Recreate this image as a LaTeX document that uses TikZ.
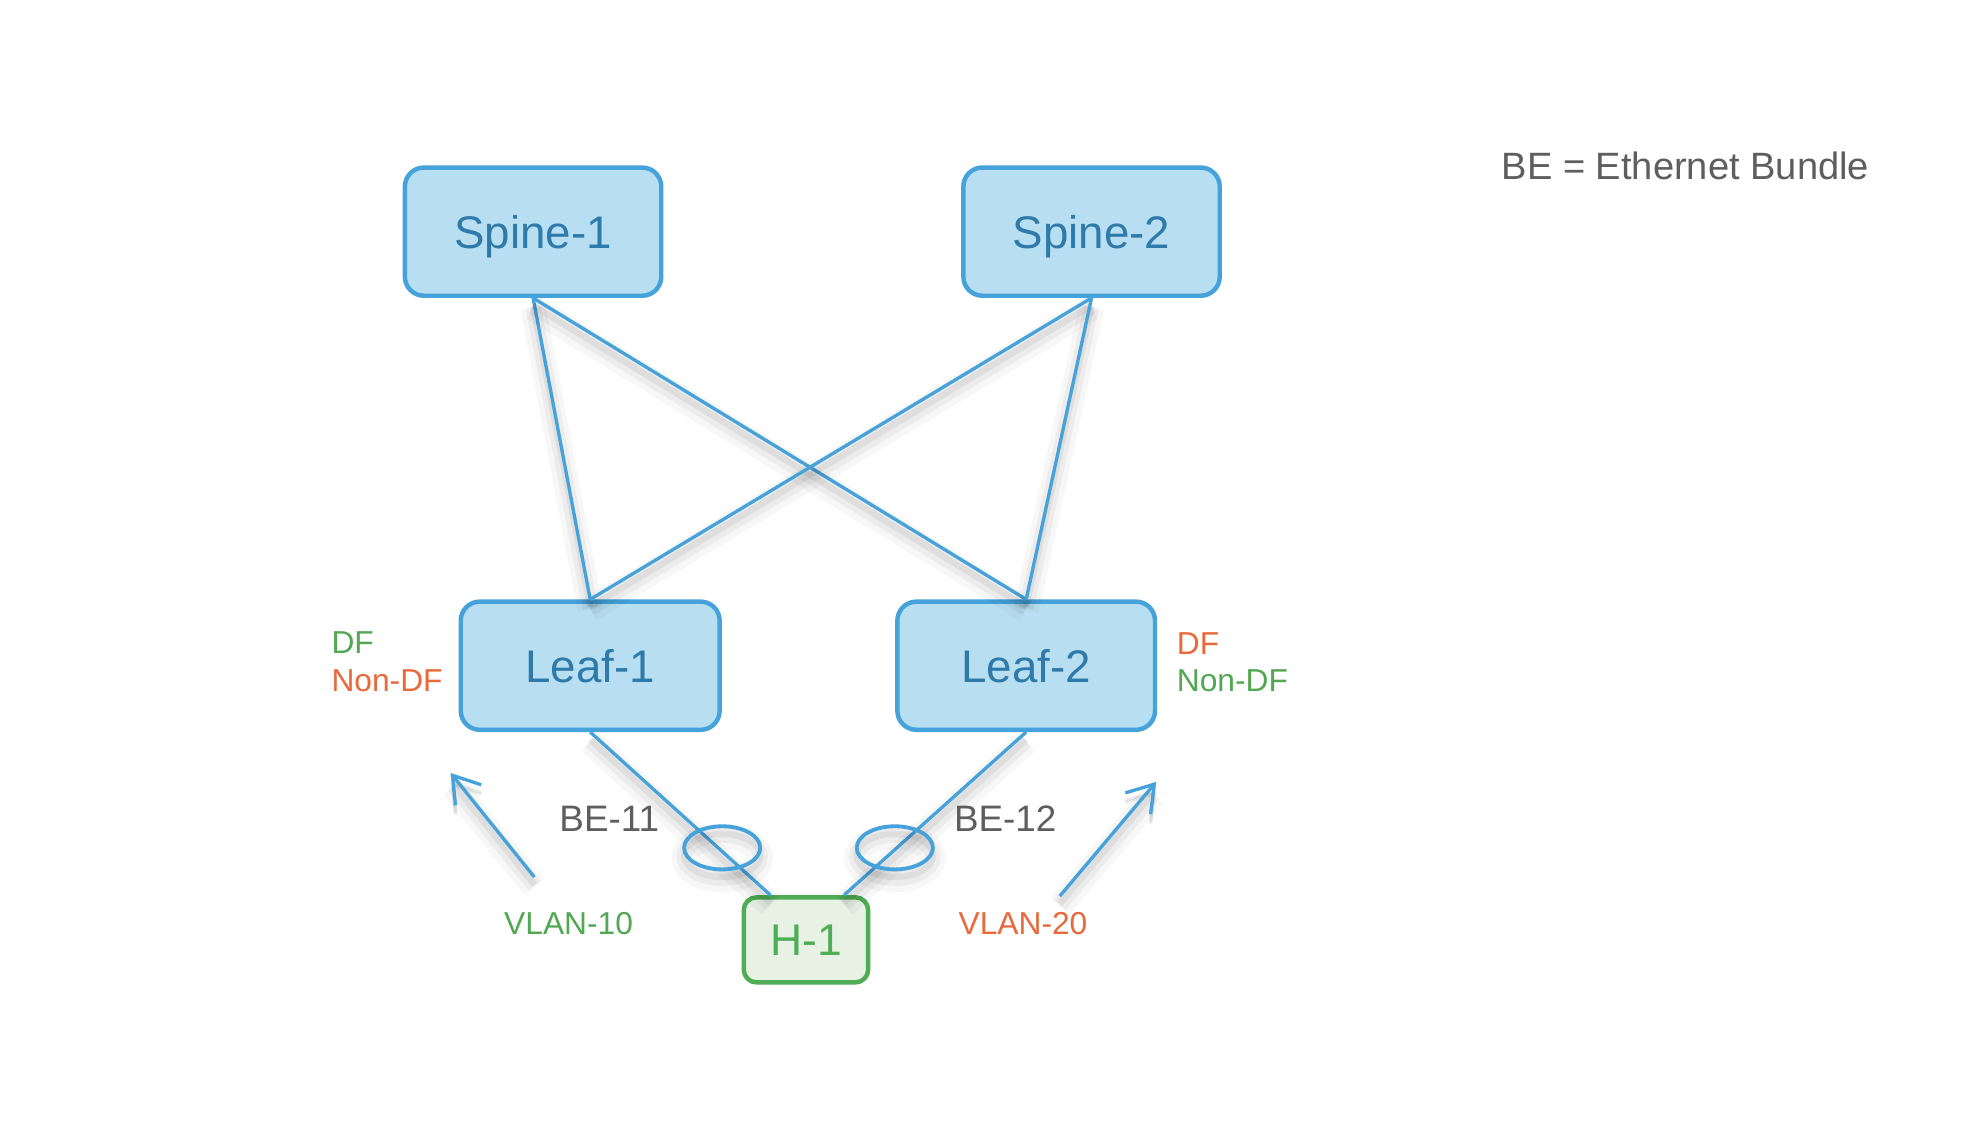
\documentclass[tikz,border=0pt]{standalone}
\usepackage{fontspec}
\setmainfont{Liberation Sans}
\usetikzlibrary{arrows.meta,calc}
\definecolor{boxfill}{HTML}{B8DFF1}
\definecolor{boxline}{HTML}{45A2DA}
\definecolor{boxtext}{HTML}{2E7AAA}
\definecolor{hgreen}{HTML}{4EAD55}
\definecolor{hfill}{HTML}{E7F2E5}
\definecolor{tgreen}{HTML}{52A852}
\definecolor{torange}{HTML}{E8693A}
\definecolor{tgray}{HTML}{5E5E5E}
\tikzset{
  devbox/.style={draw=boxline, fill=boxfill, line width=3.5pt, rounded corners=15pt,
    minimum width=202pt, minimum height=101pt, inner sep=0pt,
    text=boxtext, font=\fontsize{36}{40}\selectfont, text height=25.8pt, text depth=0pt},
  hostbox/.style={draw=hgreen, fill=hfill, line width=3.5pt, rounded corners=10pt,
    minimum width=98pt, minimum height=67pt, inner sep=0pt,
    text=hgreen, font=\fontsize{35}{40}\selectfont, text height=25pt, text depth=0pt},
  shad/.style={
    preaction={draw=black, opacity=0.03, line width=20pt, transform canvas={yshift=-8pt}},
    preaction={draw=black, opacity=0.045, line width=12pt, transform canvas={yshift=-7pt}},
    preaction={draw=black, opacity=0.06, line width=5pt, transform canvas={yshift=-6pt}}},
  link/.style={draw=boxline, line width=2.6pt, shad},
  varrow/.style={draw=boxline, line width=2.6pt, -{Straight Barb[length=20pt,width=26pt,line width=2.6pt]}},
  bundle/.style={draw=boxline, line width=3pt},
  lbl/.style={inner sep=0pt, font=\fontsize{29}{32}\selectfont, text height=20.8pt, text depth=0pt},
  small/.style={inner sep=0pt, font=\fontsize{25}{28}\selectfont, text height=18pt, text depth=0pt},
}
\begin{document}
\begin{tikzpicture}[x=1pt,y=-1pt]
\useasboundingbox (0,0) rectangle (1560,901);
\fill[white] (0,0) rectangle (1560,901);

% devices
\node[devbox] (S1) at (420,182.5) {Spine-1};
\node[devbox] (S2) at (860,182.5) {Spine-2};
\node[devbox, minimum width=204pt] (L1) at (465,524.5) {Leaf-1};
\node[devbox, minimum width=203pt] (L2) at (808.5,524.5) {Leaf-2};
\node[hostbox] (H1) at (635,740.5) {H-1};

% fabric links
\draw[link] (S1.south) -- (L1.north);
\draw[link] (S1.south) -- (L2.north);
\draw[link] (S2.south) -- (L1.north);
\draw[link] (S2.south) -- (L2.north);

% access links
\draw[link] (L1.south) -- ($(H1.north)+(-28,0)$);
\draw[link] (L2.south) -- ($(H1.north)+(30,0)$);

% bundle ellipses
\draw[bundle, shad] (569,668) ellipse [x radius=30, y radius=17];
\draw[bundle, shad] (705,668) ellipse [x radius=30, y radius=17];

% VLAN arrows
\coordinate (a1s) at (421,691);
\coordinate (a1e) at (355,609);
\coordinate (a2s) at (835,706);
\coordinate (a2e) at (911,616);
\draw[varrow, shad] (a1s) -- (a1e);
\draw[varrow, shad] (a2s) -- (a2e);

% labels
\node[lbl, text=tgray] (be11) at (480,645) {BE-11};
\node[lbl, text=tgray] (be12) at (792,645) {BE-12};
\node[small, text=tgreen] (v10) at (448,727) {VLAN-10};
\node[small, text=torange] (v20) at (806,727) {VLAN-20};
\node[small, text=tgreen, anchor=west] (df1) at (261,506) {DF};
\node[small, text=torange, anchor=west] (ndf1) at (261,535.5) {Non-DF};
\node[small, text=torange, anchor=west] (df2) at (927,507) {DF};
\node[small, text=tgreen, anchor=west] (ndf2) at (927,536) {Non-DF};
\node[lbl, text=tgray, anchor=west, font=\fontsize{30}{34}\selectfont, text height=21.5pt] (legend) at (1183,131) {BE = Ethernet Bundle};
\end{tikzpicture}
\end{document}
